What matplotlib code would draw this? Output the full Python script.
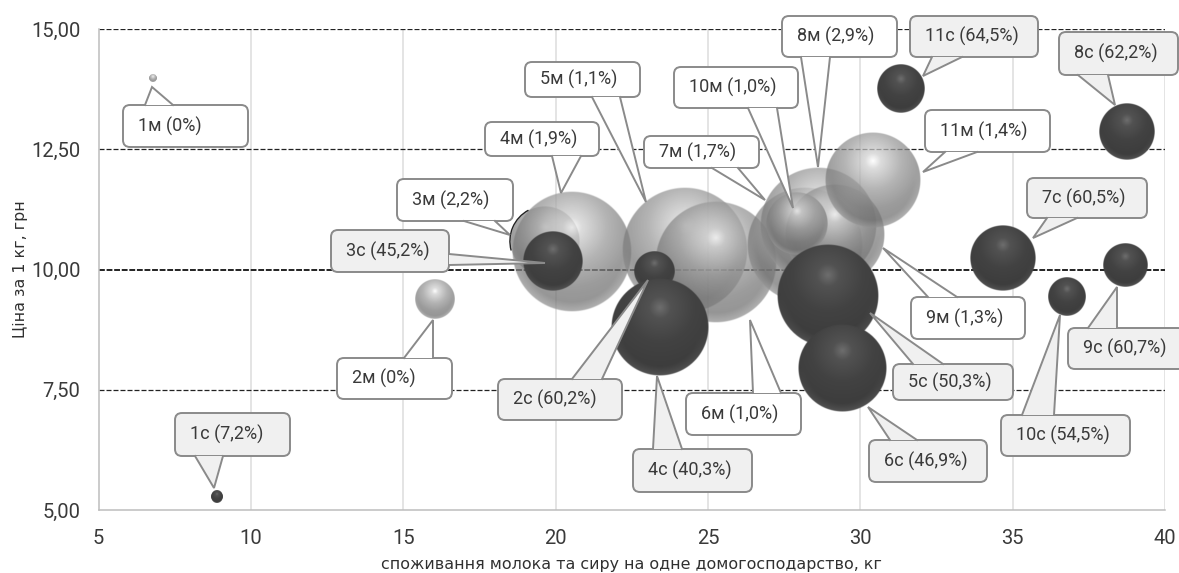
#!/usr/bin/env python3
"""Bubble chart: milk and cheese consumption against price per kg."""

import numpy as np
import matplotlib.pyplot as plt
from matplotlib.patches import Arc, FancyBboxPatch, Polygon

plt.rcParams['font.family'] = ['Roboto', 'DejaVu Sans']

# milk series (м)
x_m = [6.79, 16.04, 19.65, 20.54, 24.25, 25.27, 28.19, 28.61, 29.17, 27.92, 30.42]
y_m = [13.98, 9.39, 10.59, 10.36, 10.40, 10.16, 10.51, 10.93, 10.72, 10.95, 11.86]
size_m = [4, 20, 35, 60, 63, 61, 58, 58, 50, 31, 48]
labels_m = ['1м (0%)', '2м (0%)', '3м (2,2%)', '4м (1,9%)', '5м (1,1%)', '6м (1,0%)',
            '7м (1,7%)', '8м (2,9%)', '9м (1,3%)', '10м (1,0%)', '11м (1,4%)']

# cheese series (с)
x_c = [8.89, 23.23, 19.92, 23.43, 28.94, 29.40, 34.69, 38.76, 38.69, 36.79, 31.34]
y_c = [5.27, 9.97, 10.18, 8.80, 9.45, 7.95, 10.24, 12.86, 10.09, 9.43, 13.75]
size_c = [6, 20, 30, 49, 51, 44, 33, 28, 22, 19, 24]
labels_c = ['1с (7,2%)', '2с (60,2%)', '3с (45,2%)', '4с (40,3%)', '5с (50,3%)', '6с (46,9%)',
            '7с (60,5%)', '8с (62,2%)', '9с (60,7%)', '10с (54,5%)', '11с (64,5%)']

x_ticks = [5, 10, 15, 20, 25, 30, 35, 40]
y_ticks = [5.0, 7.5, 10.0, 12.5, 15.0]

# callout layout in pixels: box (x0, y0, x1, y1), tail base a, tail base b, tip
callouts_m = [
    ((123, 105, 248, 147), (145, 105), (173, 105), (152, 87)),
    ((337, 358, 452, 399), (404, 358), (433, 358), (433, 320)),
    ((397, 179, 513, 221), (464, 221), (495, 221), (510, 235)),
    ((485, 122, 599, 156), (552, 156), (581, 156), (561, 193)),
    ((525, 62, 640, 97), (592, 97), (620, 97), (646, 202)),
    ((686, 393, 801, 435), (753, 393), (781, 393), (750, 320)),
    ((644, 136, 759, 168), (712, 168), (738, 168), (765, 200)),
    ((782, 16, 897, 57), (801, 57), (830, 57), (818, 167)),
    ((911, 297, 1025, 339), (928, 297), (957, 297), (883, 248)),
    ((674, 67, 798, 108), (748, 108), (777, 108), (793, 208)),
    ((925, 110, 1050, 152), (945, 152), (977, 152), (923, 172)),
]
callouts_c = [
    ((175, 413, 290, 456), (195, 456), (223, 456), (214, 488)),
    ((498, 379, 622, 420), (572, 379), (602, 379), (648, 280)),
    ((331, 230, 449, 272), (449, 254), (449, 265), (545, 263)),
    ((633, 449, 752, 492), (653, 449), (682, 449), (657, 376)),
    ((893, 364, 1013, 400), (913, 364), (943, 364), (870, 313)),
    ((869, 440, 987, 482), (890, 440), (917, 440), (868, 407)),
    ((1027, 178, 1147, 218), (1047, 218), (1077, 218), (1033, 238)),
    ((1059, 32, 1178, 75), (1078, 75), (1108, 75), (1115, 105)),
    ((1068, 328, 1185, 369), (1088, 328), (1117, 328), (1117, 287)),
    ((1001, 415, 1130, 456), (1022, 415), (1054, 415), (1060, 315)),
    ((910, 16, 1038, 57), (932, 57), (962, 57), (923, 76)),
]


def sphere_rgba(light, n=240):
    """Shaded ball as an RGBA array, row 0 on top."""
    v, u = np.mgrid[-1:1:n * 1j, -1:1:n * 1j]
    r = np.hypot(u, v)
    spot = np.hypot(u, v + 0.4)
    if light:
        tone = np.interp(spot, [0, 0.16, 0.6, 1.0, 1.4], [1.0, 0.82, 0.6, 0.47, 0.42])
        rim = np.clip((r - 0.84) / 0.16, 0, 1) * np.clip(v + 0.3, 0, 1)
        tone = tone + 0.16 * rim
        alpha = 0.74
    else:
        tone = np.interp(spot, [0, 0.22, 0.7, 1.4], [0.43, 0.32, 0.26, 0.23])
        rim = np.clip((r - 0.8) / 0.2, 0, 1) * np.clip(v, 0, 1)
        tone = tone + 0.1 * rim
        alpha = 1.0
    img = np.dstack([tone, tone, tone, alpha * np.clip((1 - r) * n / 4, 0, 1)])
    return np.clip(img, 0, 1)


def draw_bubbles(ax, xs, ys, sizes, light, zorder):
    img = sphere_rgba(light)
    # bubble sizes are px radii, so turn them into data units per axis
    px = ax.transData.transform([(0, 0), (1, 1)])
    sx, sy = abs(px[1] - px[0])
    for i, (x, y, s) in enumerate(zip(xs, ys, sizes)):
        ax.imshow(img, extent=(x - s / sx, x + s / sx, y - s / sy, y + s / sy),
                  aspect='auto', interpolation='bilinear', zorder=zorder + i * 0.01)


def draw_callout(ax, spec, text, face):
    (x0, y0, x1, y1), a, b, tip = spec
    edge = '#8a8a8a'
    ax.add_patch(FancyBboxPatch((x0 + 6, y0 + 6), x1 - x0 - 12, y1 - y0 - 12,
                                boxstyle='round,pad=6,rounding_size=7', fc=face, ec=edge, lw=1.4))
    ax.add_patch(Polygon([a, tip, b], closed=True, fc=face, ec='none'))
    ax.plot([a[0], tip[0], b[0]], [a[1], tip[1], b[1]], color=edge, lw=1.4, solid_joinstyle='miter')
    ax.text(x0 + 15, (y0 + y1) / 2, text, ha='left', va='center', fontsize=13, color='#3a3a3a')


fig = plt.figure(figsize=(11.79, 5.73), dpi=100)
ax = fig.add_axes([98.5 / 1179, 63 / 573, 1066.5 / 1179, 481 / 573])
ax.set_xlim(5, 40)
ax.set_ylim(5, 15)

for x in x_ticks[1:]:
    ax.axvline(x, color='#dcdcdc', lw=1.1, zorder=1)
for y in y_ticks[1:]:
    if y == 10.0:
        ax.axhline(y, color='#222222', lw=1.4, ls=(0, (3, 0.9)), zorder=2)
    else:
        ax.axhline(y, color='#222222', lw=0.9, ls=(0, (4, 1.6)), zorder=2)

draw_bubbles(ax, x_m, y_m, size_m, True, 3)
# thin dark edge showing on the left of 3м
ax.add_patch(Arc((x_m[2], y_m[2]), 2 * size_m[2] / 30.47, 2 * size_m[2] / 48.1, theta1=130, theta2=190,
                 color='#222222', lw=1.0, zorder=3.5))
draw_bubbles(ax, x_c, y_c, size_c, False, 4)
ax.set_xlim(5, 40)
ax.set_ylim(5, 15)

ax.set_xticks(x_ticks)
ax.set_yticks(y_ticks)
ax.set_yticklabels([f'{v:.2f}'.replace('.', ',') for v in y_ticks])
ax.tick_params(axis='x', length=0, labelsize=14.5, labelcolor='#3a3a3a', pad=14)
ax.tick_params(axis='y', length=0, labelsize=14.5, labelcolor='#3a3a3a', pad=13)
for name, spine in ax.spines.items():
    spine.set_visible(name in ('left', 'bottom'))
    spine.set_color('#bdbdbd')
    spine.set_linewidth(1.1)
ax.set_xlabel('споживання молока та сиру на одне домогосподарство, кг', family='DejaVu Sans',
              fontsize=11.4, color='#303030', labelpad=6)
ax.set_ylabel('Ціна за 1 кг, грн', family='DejaVu Sans', fontsize=11.4, color='#303030')
ax.yaxis.set_label_coords(-70 / 1066.5, 0.5)

# callouts sit in a full-figure overlay measured in pixels
over = fig.add_axes([0, 0, 1, 1], zorder=5)
over.set_xlim(0, 1179)
over.set_ylim(573, 0)
over.axis('off')
for spec, text in zip(callouts_m, labels_m):
    draw_callout(over, spec, text, 'white')
for spec, text in zip(callouts_c, labels_c):
    draw_callout(over, spec, text, '#f0f0f0')

fig.savefig('out.png', dpi=100)
plt.close(fig)
